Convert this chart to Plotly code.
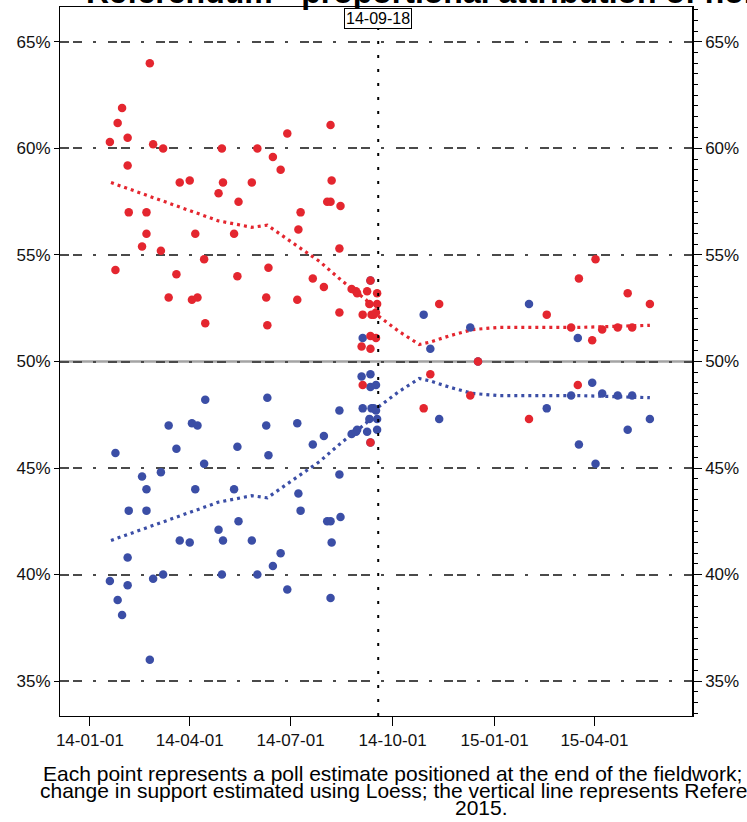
import plotly.graph_objects as go

# ---------------- data ----------------
poll_dates = [
    "2014-01-19", "2014-01-24", "2014-01-26", "2014-01-30", "2014-02-04", "2014-02-04",
    "2014-02-05", "2014-02-17", "2014-02-21", "2014-02-21", "2014-02-24", "2014-02-27",
    "2014-03-06", "2014-03-08", "2014-03-13", "2014-03-20", "2014-03-23", "2014-04-01",
    "2014-04-03", "2014-04-06", "2014-04-08", "2014-04-14", "2014-04-15", "2014-04-27",
    "2014-04-30", "2014-05-01", "2014-05-11", "2014-05-14", "2014-05-15", "2014-05-27",
    "2014-06-01", "2014-06-09", "2014-06-10", "2014-06-11", "2014-06-15", "2014-06-22",
    "2014-06-28", "2014-07-07", "2014-07-08", "2014-07-10", "2014-07-21", "2014-07-31",
    "2014-08-03", "2014-08-06", "2014-08-06", "2014-08-07", "2014-08-15", "2014-08-14",
    "2014-08-14", "2014-08-25", "2014-08-29", "2014-08-30", "2014-09-08", "2014-09-11",
    "2014-09-11", "2014-09-17", "2014-09-10", "2014-09-17", "2014-09-04", "2014-09-12",
    "2014-09-14", "2014-09-16", "2014-09-11", "2014-09-16", "2014-09-03", "2014-09-11",
    "2014-09-04",
    "2014-10-29", "2014-11-04", "2014-11-12", "2014-12-10", "2014-12-17", "2015-02-01",
    "2015-02-17", "2015-03-11", "2015-03-17", "2015-03-18", "2015-03-30", "2015-04-02",
    "2015-04-08", "2015-04-22", "2015-05-01", "2015-05-05", "2015-05-21",
]
no_share = [
    60.3, 54.3, 61.2, 61.9, 60.5, 59.2,
    57.0, 55.4, 57.0, 56.0, 64.0, 60.2,
    55.2, 60.0, 53.0, 54.1, 58.4, 58.5,
    52.9, 56.0, 53.0, 54.8, 51.8, 57.9,
    60.0, 58.4, 56.0, 54.0, 57.5, 58.4,
    60.0, 53.0, 51.7, 54.4, 59.6, 59.0,
    60.7, 52.9, 56.2, 57.0, 53.9, 53.5,
    57.5, 57.5, 61.1, 58.5, 57.3, 55.3,
    52.3, 53.4, 53.3, 53.2, 53.3, 53.8,
    46.2, 53.2, 52.7, 52.7, 52.2, 52.2,
    52.2, 52.3, 51.2, 51.1, 50.7, 50.6,
    48.9,
    47.8, 49.4, 52.7, 48.4, 50.0, 47.3,
    52.2, 51.6, 48.9, 53.9, 51.0, 54.8,
    51.5, 51.6, 53.2, 51.6, 52.7,
]
yes_share = [
    39.7, 45.7, 38.8, 38.1, 39.5, 40.8,
    43.0, 44.6, 43.0, 44.0, 36.0, 39.8,
    44.8, 40.0, 47.0, 45.9, 41.6, 41.5,
    47.1, 44.0, 47.0, 45.2, 48.2, 42.1,
    40.0, 41.6, 44.0, 46.0, 42.5, 41.6,
    40.0, 47.0, 48.3, 45.6, 40.4, 41.0,
    39.3, 47.1, 43.8, 43.0, 46.1, 46.5,
    42.5, 42.5, 38.9, 41.5, 42.7, 44.7,
    47.7, 46.6, 46.7, 46.8, 46.7, 46.2,
    53.8, 46.8, 47.3, 47.3, 47.8, 47.8,
    47.8, 47.7, 48.8, 48.9, 49.3, 49.4,
    51.1,
    52.2, 50.6, 47.3, 51.6, 50.0, 52.7,
    47.8, 48.4, 51.1, 46.1, 49.0, 45.2,
    48.5, 48.4, 46.8, 48.4, 47.3,
]

loess_dates = [
    "2014-01-20", "2014-03-04", "2014-04-27", "2014-05-27", "2014-06-10", "2014-07-02",
    "2014-07-27", "2014-08-16", "2014-09-07", "2014-09-19", "2014-10-07", "2014-10-25",
    "2014-11-03", "2014-11-21", "2014-12-12", "2015-01-05", "2015-03-18", "2015-05-21",
]
no_loess = [58.4, 57.6, 56.6, 56.3, 56.4, 55.6, 54.7, 53.8, 52.9, 52.1, 51.4, 50.8,
            50.9, 51.2, 51.5, 51.6, 51.6, 51.7]
yes_loess = [41.6, 42.4, 43.4, 43.7, 43.6, 44.4, 45.3, 46.2, 47.1, 47.9, 48.6, 49.2,
             49.1, 48.8, 48.5, 48.4, 48.4, 48.3]

x_tick_values = ["2014-01-01", "2014-04-01", "2014-07-01", "2014-10-01", "2015-01-01", "2015-04-01"]
x_tick_labels = ["14-01-01", "14-04-01", "14-07-01", "14-10-01", "15-01-01", "15-04-01"]
y_tick_values = [35, 40, 45, 50, 55, 60, 65]
y_tick_labels = ["35%", "40%", "45%", "50%", "55%", "60%", "65%"]

referendum_date = "2014-09-18"
referendum_label = "14-09-18"

title_text = "Referendum - proportional attribution of non-response"
caption_line1 = "Each point represents a poll estimate positioned at the end of the fieldwork; the"
caption_line2 = "change in support estimated using Loess; the vertical line represents Referendum"
caption_line3 = "2015."

# ---------------- styling ----------------
W, H = 747, 822
ML, MR, MT, MB = 60, 55, 7, 106
PW, PH = W - ML - MR, H - MT - MB
RED = "#e4262f"
BLUE = "#3b4ea6"
FONT = "Liberation Sans, Arial, sans-serif"
GRID_DASH = "9px,4px,9px,11px,3px,12px"
Y_RANGE = [33.36, 66.64]
X_RANGE = ["2013-12-05", "2015-06-28"]


def px_x(p):
    return (p - ML) / PW


def px_y(p):
    return (H - MB - p) / PH


fig = go.Figure()
fig.add_trace(go.Scatter(x=loess_dates, y=yes_loess, mode="lines",
                         line=dict(color=BLUE, width=3.2, dash="3px,4px"),
                         hoverinfo="skip", showlegend=False))
fig.add_trace(go.Scatter(x=loess_dates, y=no_loess, mode="lines",
                         line=dict(color=RED, width=3.2, dash="3px,4px"),
                         hoverinfo="skip", showlegend=False))
fig.add_trace(go.Scatter(x=poll_dates, y=yes_share, mode="markers", name="Yes",
                         marker=dict(color=BLUE, size=8.5, line=dict(width=0)),
                         showlegend=False))
fig.add_trace(go.Scatter(x=poll_dates, y=no_share, mode="markers", name="No",
                         marker=dict(color=RED, size=8.5, line=dict(width=0)),
                         showlegend=False))
# empty trace that carries the right-hand axis
fig.add_trace(go.Scatter(x=[], y=[], yaxis="y2", showlegend=False, hoverinfo="skip"))

axis_font = dict(family=FONT, size=17, color="#111")

fig.update_layout(
    width=W, height=H,
    margin=dict(l=ML, r=MR, t=MT, b=MB),
    paper_bgcolor="white", plot_bgcolor="white",
    showlegend=False,
    xaxis=dict(
        type="date", range=X_RANGE,
        tickmode="array", tickvals=x_tick_values, ticktext=x_tick_labels,
        ticks="outside", ticklen=9, tickwidth=1, tickcolor="black",
        showline=True, linecolor="black", linewidth=1, mirror=True,
        showgrid=False, zeroline=False, tickfont=axis_font,
    ),
    yaxis=dict(
        range=Y_RANGE, tickmode="array", tickvals=y_tick_values, ticktext=y_tick_labels,
        ticks="outside", ticklen=5, tickwidth=1, tickcolor="black",
        showline=True, linecolor="black", linewidth=1,
        showgrid=True, gridcolor="#4a4a4a", gridwidth=1.5, griddash=GRID_DASH,
        zeroline=False, tickfont=axis_font,
    ),
    yaxis2=dict(
        range=Y_RANGE, overlaying="y", side="right", anchor="x",
        tickmode="linear", tick0=35, dtick=5, ticksuffix="%",
        ticks="outside", ticklen=8, tickwidth=1, tickcolor="black",
        minor=dict(tickmode="linear", tick0=35, dtick=0.5, ticks="outside",
                   ticklen=4, tickcolor="black", showgrid=False),
        showline=True, linecolor="black", linewidth=1.5,
        showgrid=False, zeroline=False, tickfont=axis_font,
    ),
    shapes=[
        dict(type="line", xref="paper", x0=0, x1=1, yref="y", y0=50, y1=50,
             line=dict(color="rgba(90,90,90,0.55)", width=2.5), layer="below"),
        dict(type="line", xref="x", x0=referendum_date, x1=referendum_date,
             yref="paper", y0=0, y1=1,
             line=dict(color="black", width=2, dash="3px,11px"), layer="above"),
    ],
    annotations=[
        dict(x=px_x(84), xref="paper", y=px_y(-8), yref="paper",
             text="<b>" + title_text + "</b>", showarrow=False,
             xanchor="left", yanchor="middle",
             font=dict(family=FONT, size=32, color="black")),
        dict(x=referendum_date, xref="x", y=px_y(19), yref="paper",
             text=referendum_label, showarrow=False, xanchor="center", yanchor="middle",
             font=dict(family=FONT, size=16, color="black"),
             bgcolor="white", bordercolor="black", borderwidth=1, borderpad=1),
        dict(x=px_x(41), xref="paper", y=px_y(773), yref="paper",
             text=caption_line1, showarrow=False, xanchor="left", yanchor="middle",
             font=dict(family=FONT, size=21, color="black")),
        dict(x=px_x(38), xref="paper", y=px_y(790), yref="paper",
             text=caption_line2, showarrow=False, xanchor="left", yanchor="middle",
             font=dict(family=FONT, size=21, color="black")),
        dict(x=px_x(481), xref="paper", y=px_y(807), yref="paper",
             text=caption_line3, showarrow=False, xanchor="center", yanchor="middle",
             font=dict(family=FONT, size=21, color="black")),
    ],
)

fig.write_html("out.html", config={"displayModeBar": False},
               post_script="document.body.style.margin='0px';")
